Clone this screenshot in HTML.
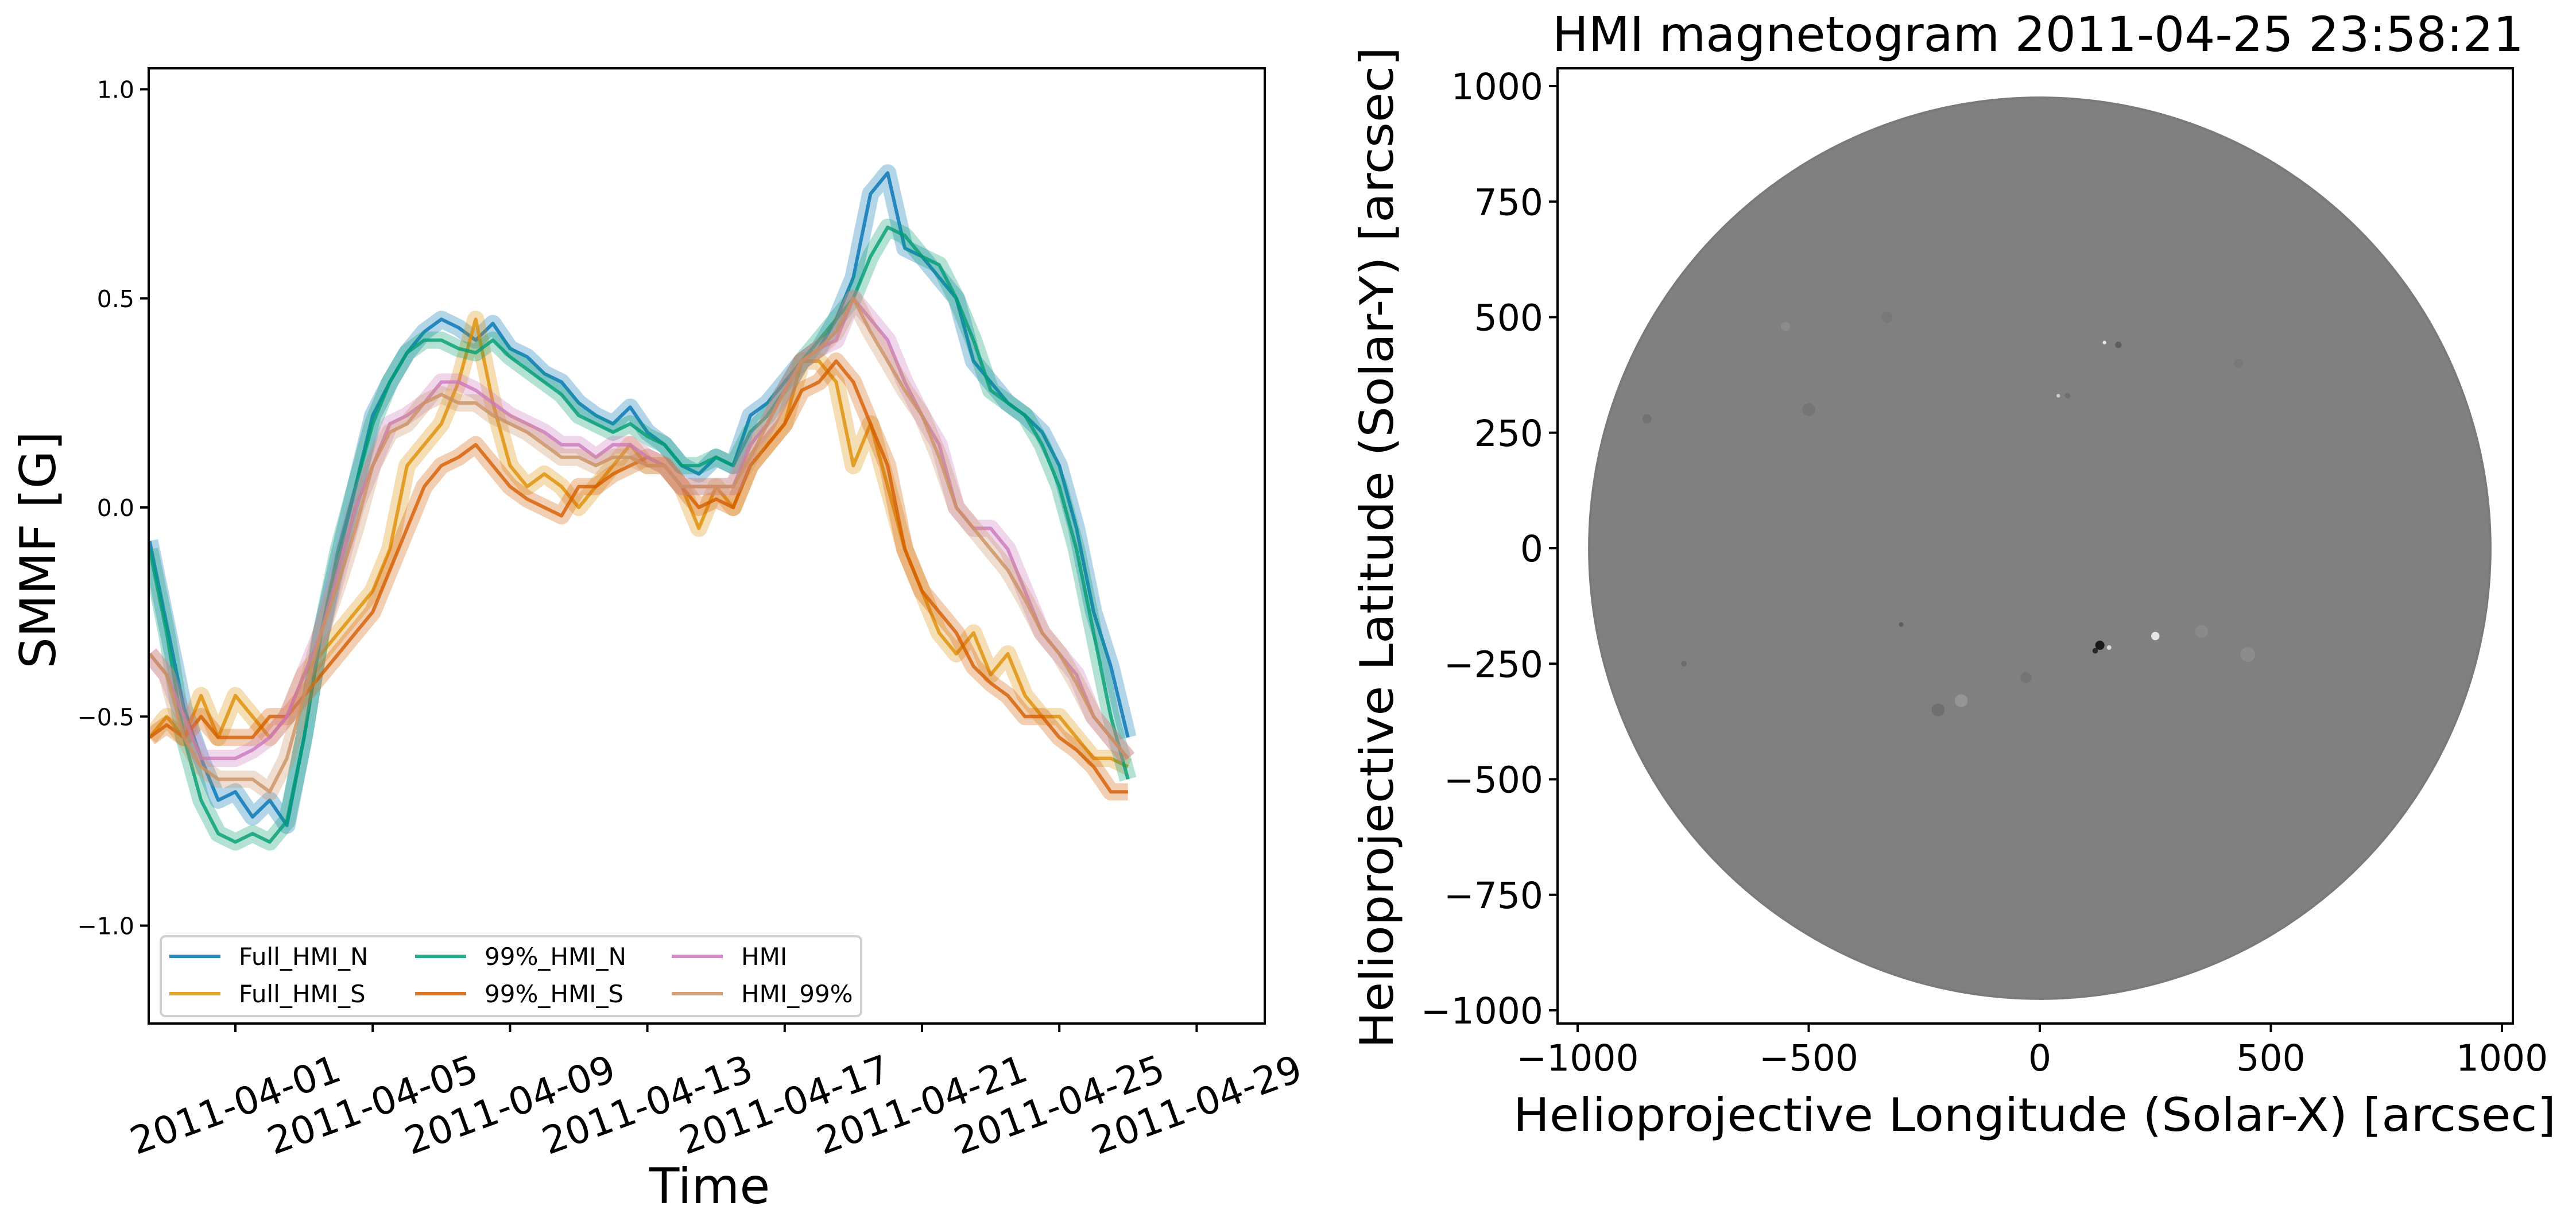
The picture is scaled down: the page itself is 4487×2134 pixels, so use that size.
<!DOCTYPE html>
<html><head><meta charset="utf-8"><style>
html,body{margin:0;padding:0;background:#fff;}
svg{display:block;font-family:"DejaVu Sans","Liberation Sans",sans-serif;}
</style></head><body>
<svg id="fig" width="4487" height="2134" viewBox="0 0 4487 2134" xmlns="http://www.w3.org/2000/svg">
<defs><clipPath id="clipL"><rect x="259" y="119" width="1944" height="1664"/></clipPath>
<clipPath id="clipR"><rect x="2713" y="119" width="1664" height="1664"/></clipPath></defs>
<g id="left"></g>
<g id="right"></g>
</svg>
<script>
const times = [-2.5,-2,-1.5,-1,-0.5,0,0.5,1,1.5,2,2.5,3,3.5,4,4.5,5,5.5,6,6.5,7,7.5,8,8.5,9,9.5,10,10.5,11,11.5,12,12.5,13,13.5,14,14.5,15,15.5,16,16.5,17,17.5,18,18.5,19,19.5,20,20.5,21,21.5,22,22.5,23,23.5,24,24.5,25,25.5,26];
const fullN = [-0.08,-0.28,-0.48,-0.6,-0.7,-0.68,-0.74,-0.7,-0.76,-0.55,-0.3,-0.12,0.05,0.22,0.3,0.37,0.42,0.45,0.43,0.4,0.44,0.38,0.36,0.32,0.3,0.25,0.22,0.2,0.24,0.18,0.15,0.1,0.08,0.12,0.1,0.22,0.25,0.3,0.35,0.38,0.45,0.55,0.75,0.8,0.62,0.6,0.55,0.5,0.35,0.3,0.25,0.22,0.18,0.1,-0.05,-0.25,-0.38,-0.55];
const fullS = [-0.55,-0.5,-0.55,-0.45,-0.55,-0.45,-0.5,-0.55,-0.5,-0.4,-0.35,-0.3,-0.25,-0.2,-0.1,0.1,0.15,0.2,0.3,0.45,0.25,0.1,0.05,0.08,0.05,0.0,0.05,0.1,0.15,0.1,0.1,0.05,-0.05,0.05,0.0,0.1,0.15,0.2,0.35,0.35,0.3,0.1,0.2,0.05,-0.1,-0.2,-0.3,-0.35,-0.3,-0.4,-0.35,-0.45,-0.5,-0.5,-0.55,-0.6,-0.6,-0.62];
const p99N = [-0.1,-0.3,-0.55,-0.7,-0.78,-0.8,-0.78,-0.8,-0.75,-0.55,-0.3,-0.1,0.05,0.2,0.3,0.37,0.4,0.4,0.38,0.37,0.4,0.36,0.33,0.3,0.27,0.22,0.2,0.18,0.2,0.17,0.15,0.1,0.1,0.12,0.1,0.18,0.22,0.28,0.35,0.4,0.45,0.5,0.6,0.67,0.65,0.6,0.58,0.5,0.4,0.28,0.25,0.22,0.15,0.05,-0.1,-0.3,-0.5,-0.65];
const p99S = [-0.55,-0.52,-0.55,-0.5,-0.55,-0.55,-0.55,-0.5,-0.5,-0.45,-0.4,-0.35,-0.3,-0.25,-0.15,-0.05,0.05,0.1,0.12,0.15,0.1,0.05,0.02,0.0,-0.02,0.05,0.05,0.08,0.1,0.12,0.1,0.05,0.0,0.02,0.0,0.1,0.15,0.2,0.28,0.3,0.35,0.3,0.2,0.1,-0.1,-0.2,-0.25,-0.3,-0.38,-0.42,-0.45,-0.5,-0.5,-0.55,-0.58,-0.62,-0.68,-0.68];
const hmi = [-0.35,-0.4,-0.5,-0.6,-0.6,-0.6,-0.58,-0.55,-0.5,-0.4,-0.3,-0.15,0.0,0.1,0.2,0.22,0.25,0.3,0.3,0.28,0.25,0.22,0.2,0.18,0.15,0.15,0.12,0.15,0.15,0.12,0.1,0.05,0.05,0.05,0.05,0.15,0.2,0.28,0.35,0.38,0.4,0.5,0.45,0.4,0.3,0.22,0.15,0.0,-0.05,-0.05,-0.1,-0.2,-0.3,-0.35,-0.4,-0.5,-0.55,-0.6];
const hmi99 = [-0.35,-0.4,-0.55,-0.62,-0.65,-0.65,-0.65,-0.68,-0.6,-0.45,-0.3,-0.18,-0.05,0.1,0.18,0.2,0.25,0.27,0.25,0.25,0.22,0.2,0.18,0.15,0.12,0.12,0.1,0.12,0.12,0.1,0.1,0.05,0.05,0.05,0.05,0.12,0.2,0.28,0.35,0.38,0.42,0.5,0.42,0.35,0.28,0.22,0.12,0.0,-0.05,-0.1,-0.15,-0.22,-0.3,-0.35,-0.42,-0.5,-0.55,-0.6];
const seriesNames = ["Full_HMI_N","Full_HMI_S","99%_HMI_N","99%_HMI_S","HMI","HMI_99%"];
const yTicks = [1.0,0.5,0.0,-0.5,-1.0];
const yTickLabels = ["1.0","0.5","0.0","\u22120.5","\u22121.0"];
const xTicks = [0,4,8,12,16,20,24,28];
const xTickLabels = ["2011-04-01","2011-04-05","2011-04-09","2011-04-13","2011-04-17","2011-04-21","2011-04-25","2011-04-29"];
const magTicks = [1000,750,500,250,0,-250,-500,-750,-1000];
const magTickLabels = ["1000","750","500","250","0","\u2212250","\u2212500","\u2212750","\u22121000"];
const magXTicks = [-1000,-500,0,500,1000];
const magXTickLabels = ["\u22121000","\u2212500","0","500","1000"];

const NS="http://www.w3.org/2000/svg";
function mk(tag, attrs, parent){const e=document.createElementNS(NS,tag);for(const k in attrs)e.setAttribute(k,attrs[k]);parent.appendChild(e);return e;}
const L=document.getElementById('left'), R=document.getElementById('right');
const xs = t => 410 + t*59.8;
const ys = v => 884 - v*728.5;
const colors=["#0173b2","#de8f05","#029e73","#d55e00","#cc78bc","#ca9161"];
const data=[fullN,fullS,p99N,p99S,hmi,hmi99];
const plot=mk('g',{'clip-path':'url(#clipL)'},L);
data.forEach((d,i)=>{
  const pts=times.map((t,j)=>xs(t).toFixed(1)+','+ys(d[j]).toFixed(1)).join(' ');
  const band=mk('polyline',{points:pts,fill:'none',stroke:colors[i],'stroke-width':30,'stroke-opacity':0.3,'stroke-linejoin':'round'},plot);
  
  
  const pl=mk('polyline',{points:pts,fill:'none',stroke:colors[i],'stroke-width':6,'stroke-opacity':0.8,'stroke-linejoin':'round'},plot);
  
  
});
const frameL=mk('rect',{x:259,y:119,width:1944,height:1664,fill:'none',stroke:'#000','stroke-width':4},L);


yTicks.forEach((v,i)=>{
  const tk=mk('line',{x1:244,x2:259,y1:ys(v),y2:ys(v),stroke:'#000','stroke-width':4},L);
  
  
  const tx=mk('text',{x:234,y:ys(v)+15,'text-anchor':'end','font-size':41},L);tx.textContent=yTickLabels[i];
  
  
});
xTicks.forEach((t,i)=>{
  const tk=mk('line',{x1:xs(t),x2:xs(t),y1:1783,y2:1798,stroke:'#000','stroke-width':4},L);
  
  
  const tx=mk('text',{x:0,y:0,'text-anchor':'middle','dominant-baseline':'central','font-size':66,transform:`translate(${xs(t)},1925) rotate(-20)`},L);tx.textContent=xTickLabels[i];
  
  
});
const xl=mk('text',{x:1236,y:2096,'text-anchor':'middle','font-size':86},L);xl.textContent='Time';


const yl=mk('text',{x:0,y:0,'text-anchor':'middle','font-size':86,transform:'translate(96,958) rotate(-90)'},L);yl.textContent='SMMF [G]';


const lg=mk('g',{},L);


mk('rect',{x:280,y:1631,width:1220,height:139,rx:8,fill:'#fff','fill-opacity':0.8,stroke:'#d0d0d0','stroke-width':4},lg);
const legPos=[[295,1666],[295,1731],[723,1666],[723,1731],[1170,1666],[1170,1731]];
seriesNames.forEach((n,i)=>{
  const [lx,ly]=legPos[i];
  const ln=mk('line',{x1:lx,x2:lx+89,y1:ly,y2:ly,stroke:colors[i],'stroke-width':6,'stroke-opacity':0.85},lg);
  
  
  const tx=mk('text',{x:lx+121,y:ly+15,'font-size':42},lg);tx.textContent=n;
  
  
});

const mx = v => 3553 + v*0.805;
const my = v => 955 - v*0.805;
const img=mk('g',{'clip-path':'url(#clipR)'},R);
const disk=mk('circle',{cx:mx(0),cy:my(0),r:975*0.805,fill:'#808080',stroke:'#7a7a7a','stroke-width':4},img);


const feats=[[130,-210,10,'#000'],[120,-222,6,'#111'],[250,-190,9,'#fff'],[150,-215,5,'#eee'],[-220,-350,14,'#6a6a6a'],[-170,-330,14,'#9a9a9a'],[-30,-280,12,'#727272'],[450,-230,16,'#8f8f8f'],[350,-180,14,'#8c8c8c'],[60,330,6,'#6a6a6a'],[40,330,4,'#ddd'],[170,440,7,'#555'],[140,445,4,'#fff'],[-500,300,14,'#727272'],[-550,480,10,'#8e8e8e'],[-330,500,12,'#767676'],[-850,280,10,'#6e6e6e'],[-770,-250,6,'#666'],[430,400,10,'#777'],[-300,-165,5,'#555']];
feats.forEach(f=>{
  const c=mk('circle',{cx:mx(f[0]),cy:my(f[1]),r:f[2]*0.805,fill:f[3],'fill-opacity':0.8},img);
  
  
});
const frameR=mk('rect',{x:2713,y:119,width:1664,height:1664,fill:'none',stroke:'#000','stroke-width':4},R);


magTicks.forEach((v,i)=>{
  const tk=mk('line',{x1:2698,x2:2713,y1:my(v),y2:my(v),stroke:'#000','stroke-width':4},R);
  
  
  const tx=mk('text',{x:2688,y:my(v)+23,'text-anchor':'end','font-size':63},R);tx.textContent=magTickLabels[i];
  
  
});
magXTicks.forEach((v,i)=>{
  const tk=mk('line',{x1:mx(v),x2:mx(v),y1:1783,y2:1798,stroke:'#000','stroke-width':4},R);
  
  
  const tx=mk('text',{x:mx(v),y:1865,'text-anchor':'middle','font-size':63},R);tx.textContent=magXTickLabels[i];
  
  
});
const ttl=mk('text',{x:2704,y:89,'font-size':84,textLength:1692,lengthAdjust:'spacingAndGlyphs'},R);ttl.textContent='HMI magnetogram 2011-04-25 23:58:21';


const mxl=mk('text',{x:2636,y:1970,'font-size':80,textLength:1816,lengthAdjust:'spacingAndGlyphs'},R);mxl.textContent='Helioprojective Longitude (Solar-X) [arcsec]';


const myl=mk('text',{x:0,y:0,'font-size':80,'text-anchor':'middle',textLength:1744,lengthAdjust:'spacingAndGlyphs',transform:'translate(2426,954) rotate(-90)'},R);myl.textContent='Helioprojective Latitude (Solar-Y) [arcsec]';


</script>
</body></html>
